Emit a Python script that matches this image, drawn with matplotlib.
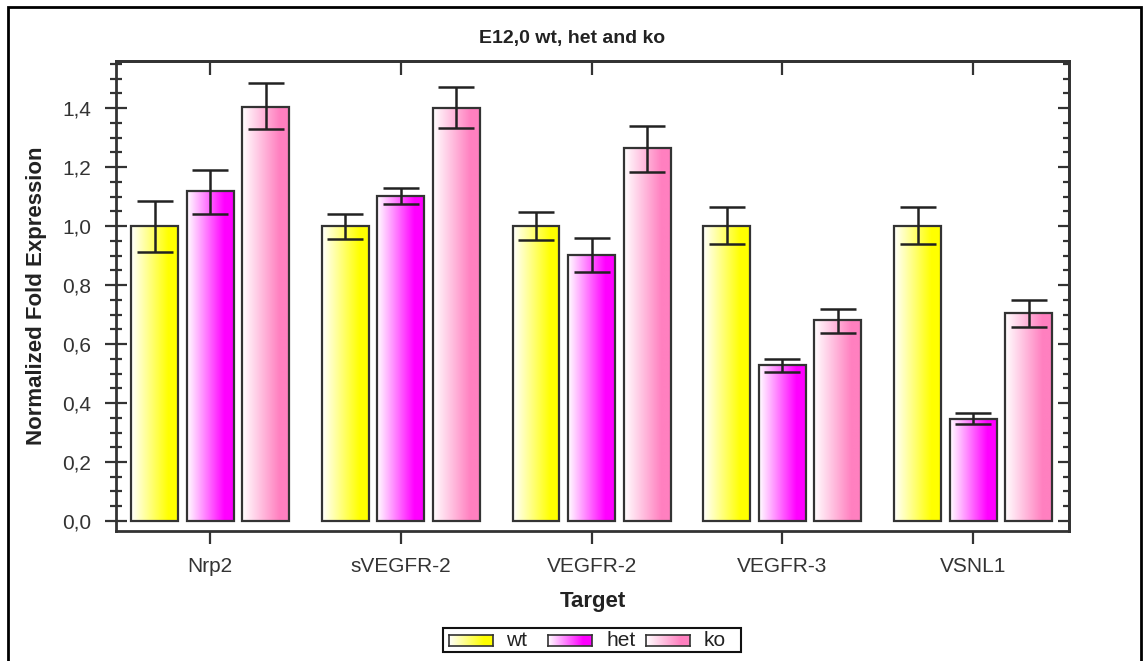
import numpy as np
import matplotlib
matplotlib.use("Agg")
import matplotlib.pyplot as plt
from matplotlib.patches import Rectangle
from matplotlib.ticker import MultipleLocator, FuncFormatter

# ---------------- data ----------------
categories = ['Nrp2', 'sVEGFR-2', 'VEGFR-2', 'VEGFR-3', 'VSNL1']
series_names = ['wt', 'het', 'ko']
series_colors = ['#FFFF00', '#FF00FF', '#FF80C0']

wt = [1.000, 1.000, 1.000, 1.000, 1.000]
het = [1.118, 1.102, 0.902, 0.530, 0.346]
ko = [1.404, 1.401, 1.265, 0.682, 0.707]

wt_err_up = [0.085, 0.042, 0.048, 0.064, 0.064]
wt_err_lo = [0.088, 0.044, 0.048, 0.060, 0.060]
het_err_up = [0.072, 0.028, 0.058, 0.020, 0.020]
het_err_lo = [0.076, 0.028, 0.057, 0.025, 0.017]
ko_err_up = [0.082, 0.072, 0.075, 0.036, 0.043]
ko_err_lo = [0.075, 0.068, 0.081, 0.044, 0.049]

title = 'E12,0 wt, het and ko'
xlabel = 'Target'
ylabel = 'Normalized Fold Expression'

# ---------------- figure ----------------
narrow = ['Liberation Sans Narrow', 'Liberation Sans', 'DejaVu Sans']
bold = ['Liberation Sans', 'DejaVu Sans']

fig = plt.figure(figsize=(11.44, 6.61), dpi=100)
W, H = 1144, 661
ax = fig.add_axes([116 / W, 1 - 531 / H, (1069 - 116) / W, (531 - 61) / H])

values = [wt, het, ko]
errs = [(wt_err_lo, wt_err_up), (het_err_lo, het_err_up), (ko_err_lo, ko_err_up)]
x = np.arange(len(categories))
width = 0.246
pitch = 0.291

def gradient_img(color):
    rgb = np.array(matplotlib.colors.to_rgb(color))
    t = np.clip(np.linspace(0, 1, 256) / 0.8, 0, 1)[:, None]
    img = (1 - t) * np.ones(3) + t * rgb
    return img[None, :, :]

for i, (vals, (elo, eup), col) in enumerate(zip(values, errs, series_colors)):
    pos = x + (i - 1) * pitch
    bars = ax.bar(pos, vals, width=width, facecolor='none', edgecolor='#333333',
                  linewidth=1.6, zorder=3)
    img = gradient_img(col)
    for b in bars:
        x0, y0 = b.get_x(), b.get_y()
        ax.imshow(img, extent=[x0, x0 + b.get_width(), y0, y0 + b.get_height()],
                  aspect='auto', interpolation='bilinear', zorder=2)
    ax.errorbar(pos, vals, yerr=[elo, eup], fmt='none', ecolor='#222222',
                elinewidth=1.8, capsize=13, capthick=1.8, zorder=4)

ax.set_xlim(-0.493, 4.503)
ax.set_ylim(-0.034, 1.56)

ax.set_xticks(x)
ax.set_xticklabels(categories, family=narrow, fontsize=15, color='#333333')
ax.yaxis.set_major_locator(MultipleLocator(0.2))
ax.yaxis.set_minor_locator(MultipleLocator(0.05))
ax.yaxis.set_major_formatter(FuncFormatter(lambda v, p: f'{v:.1f}'.replace('.', ',')))
ax.tick_params(axis='y', which='major', direction='inout', length=16, width=1.6,
               color='#333333', labelsize=15, labelcolor='#333333', pad=10)
ax.tick_params(axis='y', which='minor', direction='inout', length=8, width=1.6,
               color='#333333')
ax.tick_params(axis='x', which='major', direction='out', length=9, width=1.6,
               color='#333333', labelsize=15, labelcolor='#333333', pad=10)
for lab in ax.get_yticklabels():
    lab.set_family(narrow)

for s in ax.spines.values():
    s.set_linewidth(2)
    s.set_color('#333333')

# right axis ticks (inward)
secy = ax.secondary_yaxis('right')
secy.yaxis.set_major_locator(MultipleLocator(0.2))
secy.yaxis.set_minor_locator(MultipleLocator(0.05))
secy.tick_params(axis='y', which='major', direction='in', length=8, width=1.6,
                 color='#333333', labelright=False)
secy.tick_params(axis='y', which='minor', direction='in', length=4, width=1.6,
                 color='#333333')
secy.spines['right'].set_linewidth(2)
secy.spines['right'].set_color('#333333')

# top axis ticks (inward)
secx = ax.secondary_xaxis('top')
secx.set_xticks(x)
secx.tick_params(axis='x', direction='in', length=10, width=1.6, color='#333333',
                 labeltop=False)
secx.spines['top'].set_linewidth(2)
secx.spines['top'].set_color('#333333')

# titles and labels
fig.text(572 / W, 1 - 38 / H, title, ha='center', va='center', family=bold,
         fontweight='bold', fontsize=14, color='#222222')
fig.text(37 / W, 1 - 296 / H, ylabel, ha='center', va='center', rotation=90,
         family=bold, fontweight='bold', fontsize=16, color='#222222')
fig.text(593 / W, 1 - 601 / H, xlabel, ha='center', va='center', family=bold,
         fontweight='bold', fontsize=16, color='#222222')

# legend (manual, with gradient swatches)
fig.patches.append(Rectangle((443 / W, 1 - 652 / H), (741 - 443) / W, 24 / H,
                             transform=fig.transFigure, facecolor='white',
                             edgecolor='#111111', linewidth=1.5, zorder=5))
sw_x = [449, 548, 646]
tx_x = [506, 607, 704]
for name, col, sx, tx in zip(series_names, series_colors, sw_x, tx_x):
    lax = fig.add_axes([sx / W, 1 - 646 / H, 44 / W, 11 / H], zorder=6)
    lax.imshow(gradient_img(col), aspect='auto', extent=[0, 1, 0, 1])
    lax.set_xticks([])
    lax.set_yticks([])
    for s in lax.spines.values():
        s.set_linewidth(1.2)
        s.set_color('#333333')
    fig.text(tx / W, 1 - 640 / H, name, ha='left', va='center', family=narrow,
             fontsize=15, color='#222222', zorder=7)

# figure border
fig.patches.append(Rectangle((8 / W, -0.02), (1141 - 8) / W, 1.02 - 6.5 / H,
                             transform=fig.transFigure, facecolor='none',
                             edgecolor='black', linewidth=2, zorder=10))

fig.savefig('out.png', dpi=100)
